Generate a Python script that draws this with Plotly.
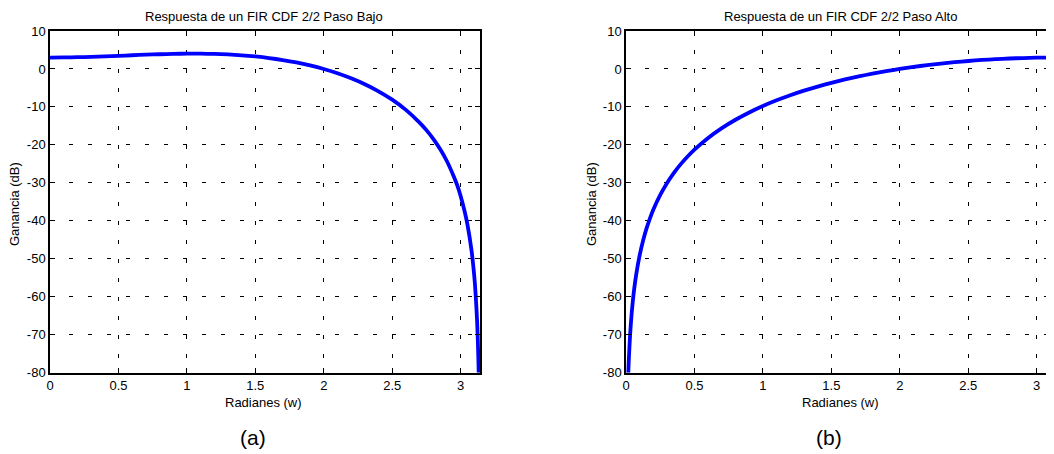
import plotly.graph_objects as go

# ---- data ----
w_low = [0.0, 0.1, 0.2, 0.3, 0.4, 0.5, 0.6, 0.7, 0.8, 0.9, 1.0, 1.1, 1.2, 1.3, 1.4,
         1.5, 1.6, 1.7, 1.8, 1.9, 2.0, 2.1, 2.2, 2.3, 2.4, 2.5, 2.6, 2.7, 2.75, 2.8,
         2.85, 2.9, 2.95, 2.975, 3.0, 3.03, 3.05, 3.08, 3.10, 3.11, 3.12, 3.125, 3.13, 3.132]
g_low = [3.01, 3.03, 3.10, 3.19, 3.32, 3.47, 3.61, 3.76, 3.88, 3.98, 4.03, 4.02, 3.96,
         3.82, 3.60, 3.29, 2.88, 2.35, 1.71, 0.92, -0.02, -1.14, -2.46, -4.02, -5.88,
         -8.09, -10.78, -14.12, -16.11, -18.40, -21.09, -24.30, -28.3, -30.61, -33.45,
         -37.6, -41.0, -47.9, -54.7, -59.5, -66.1, -70.7, -76.9, -80.0]

w_high = [0.0168, 0.02, 0.03, 0.04, 0.05, 0.06, 0.075, 0.1, 0.125, 0.15, 0.175, 0.2, 0.25,
          0.3, 0.35, 0.4, 0.45, 0.5, 0.6, 0.7, 0.8, 0.9, 1.0, 1.1, 1.2, 1.3, 1.4, 1.5, 1.6,
          1.7, 1.8, 1.9, 2.0, 2.1, 2.2, 2.3, 2.4, 2.5, 2.6, 2.7, 2.8, 2.9, 3.0, 3.1, 3.1416]
g_high = [-80.0, -76.99, -69.95, -64.95, -61.07, -57.9, -54.03, -49.04, -45.17, -42.0,
          -39.33, -37.02, -33.18, -30.01, -27.36, -25.06, -23.05, -21.25, -18.17, -15.58,
          -13.37, -11.45, -9.76, -8.26, -6.92, -5.71, -4.63, -3.65, -2.76, -1.96, -1.23,
          -0.58, 0.01, 0.54, 1.01, 1.42, 1.79, 2.10, 2.37, 2.58, 2.76, 2.88, 2.97, 3.01, 3.01]

x_ticks = [0, 0.5, 1, 1.5, 2, 2.5, 3]
x_tick_text = ["0", "0.5", "1", "1.5", "2", "2.5", "3"]
y_ticks = [10, 0, -10, -20, -30, -40, -50, -60, -70, -80]
y_tick_text = ["10", "0", "-10", "-20", "-30", "-40", "-50", "-60", "-70", "-80"]

titles = ["Respuesta de un FIR CDF 2/2 Paso Bajo", "Respuesta de un FIR CDF 2/2 Paso Alto"]
labels = ["(a)", "(b)"]

# ---- figure ----
OFF = 8  # page body margin
W, H = 1054 - OFF, 454 - OFF
FONT = "Liberation Sans, Arial, sans-serif"
BLUE = "rgb(0,0,255)"

def fx(x):
    return (x - OFF) / W

def fy(y):
    return 1 - (y - OFF) / H

fig = go.Figure()
fig.add_trace(go.Scatter(x=w_low, y=g_low, mode="lines",
                         line=dict(color=BLUE, width=3.8, shape="spline", smoothing=0.6),
                         xaxis="x", yaxis="y", showlegend=False, hoverinfo="skip"))
fig.add_trace(go.Scatter(x=w_high, y=g_high, mode="lines",
                         line=dict(color=BLUE, width=3.8, shape="spline", smoothing=0.6),
                         xaxis="x2", yaxis="y2", showlegend=False, hoverinfo="skip"))

ydom = [fy(372.7), fy(31)]
xdom1 = [fx(50), fx(480)]
xdom2 = [fx(626), 1.0]

def xaxis(dom, rng, anchor):
    return dict(domain=dom, range=rng, anchor=anchor, tickvals=x_ticks, ticktext=x_tick_text,
                showgrid=True, gridcolor="black", gridwidth=1, griddash="4px,15px",
                showline=True, linecolor="black", linewidth=1.5, mirror="ticks",
                ticks="inside", ticklen=5, tickcolor="black", zeroline=False,
                tickfont=dict(family=FONT, size=13, color="black"), automargin=False)

def yaxis(anchor, mirror):
    return dict(domain=ydom, range=[-80, 10], anchor=anchor, tickvals=y_ticks, ticktext=y_tick_text,
                showgrid=True, gridcolor="black", gridwidth=1, griddash="4px,15px",
                showline=True, linecolor="black", linewidth=1.5, mirror=mirror,
                ticks="inside", ticklen=5, tickcolor="black", zeroline=False,
                tickfont=dict(family=FONT, size=13, color="black"), automargin=False)

fig.update_layout(
    width=W, height=H,
    margin=dict(l=0, r=0, t=0, b=0),
    paper_bgcolor="white", plot_bgcolor="white",
    xaxis=xaxis(xdom1, [0, 3.1416], "y"),
    yaxis=yaxis("x", "ticks"),
    xaxis2=xaxis(xdom2, [0, (1054 - 626) / 136.9], "y2"),
    yaxis2=yaxis("x2", False),
)

ann = []
for i, (tcx, ylx, lab_cx, pcx) in enumerate([(264, 15, 263, 253), (840, 592, 840, 829)]):
    ann.append(dict(text=titles[i], x=fx(tcx), y=fy(16), xref="paper", yref="paper", showarrow=False,
                    font=dict(family=FONT, size=13, color="black"), xanchor="center", yanchor="middle"))
    ann.append(dict(text="Ganancia (dB)", x=fx(ylx), y=fy(204), xref="paper", yref="paper",
                    showarrow=False, textangle=-90, font=dict(family=FONT, size=13, color="black"),
                    xanchor="center", yanchor="middle"))
    ann.append(dict(text="Radianes (w)", x=fx(lab_cx), y=fy(402), xref="paper", yref="paper",
                    showarrow=False, font=dict(family=FONT, size=13, color="black"),
                    xanchor="center", yanchor="middle"))
    ann.append(dict(text=labels[i], x=fx(pcx), y=fy(437), xref="paper", yref="paper", showarrow=False,
                    font=dict(family=FONT, size=21, color="black"), xanchor="center", yanchor="middle"))

fig.update_layout(annotations=ann)
fig.write_html("out.html")
